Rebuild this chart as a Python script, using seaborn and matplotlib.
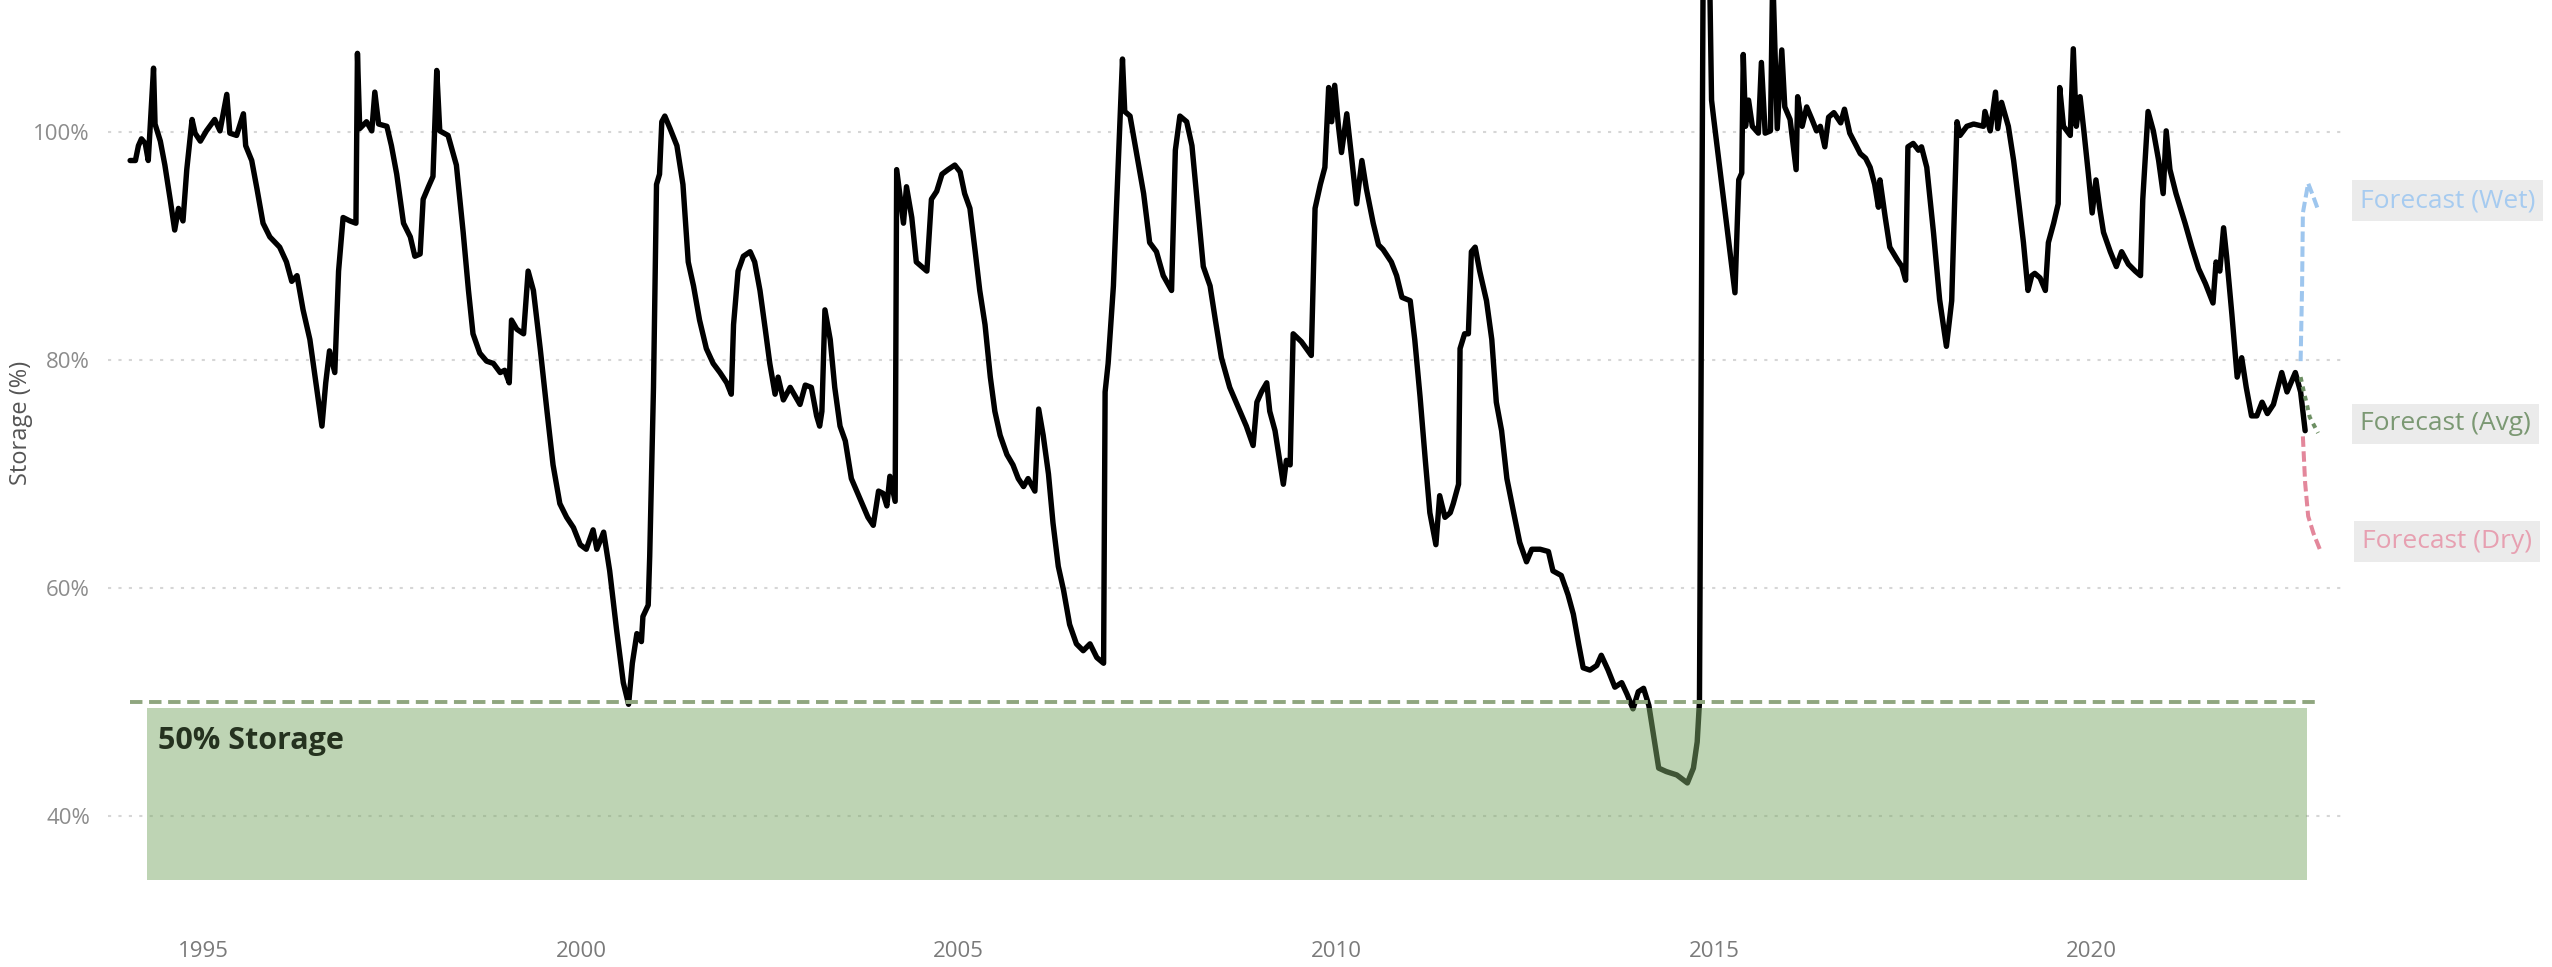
import matplotlib
matplotlib.use("Agg")
import matplotlib.pyplot as plt
import pandas as pd
import seaborn as sns

# ---------------- data (decimal years, storage % of capacity) ----------------
dates = [
    1994.03, 1994.10, 1994.14, 1994.18, 1994.23, 1994.27, 1994.34, 1994.36, 1994.43, 1994.49,
    1994.56, 1994.62, 1994.67, 1994.73, 1994.78, 1994.85, 1994.89, 1994.96, 1995.04, 1995.15,
    1995.22, 1995.31, 1995.35, 1995.44, 1995.53, 1995.56, 1995.64, 1995.71, 1995.79, 1995.88,
    1996.01, 1996.10, 1996.17, 1996.24, 1996.32, 1996.41, 1996.48, 1996.57, 1996.62, 1996.67,
    1996.74, 1996.79, 1996.85, 1996.94, 1997.02, 1997.04, 1997.07, 1997.16, 1997.23, 1997.27,
    1997.32, 1997.43, 1997.49, 1997.56, 1997.65, 1997.74, 1997.80, 1997.87, 1997.91, 1997.98,
    1998.04, 1998.09, 1998.13, 1998.24, 1998.35, 1998.44, 1998.51, 1998.57, 1998.66, 1998.75,
    1998.84, 1998.93, 1998.99, 1999.05, 1999.08, 1999.15, 1999.24, 1999.30, 1999.37, 1999.46,
    1999.55, 1999.63, 1999.72, 1999.81, 1999.90, 1999.99, 2000.07, 2000.16, 2000.21, 2000.30,
    2000.38, 2000.47, 2000.56, 2000.63, 2000.68, 2000.74, 2000.80, 2000.82, 2000.89, 2000.91,
    2000.96, 2001.00, 2001.04, 2001.07, 2001.11, 2001.18, 2001.27, 2001.35, 2001.42, 2001.49,
    2001.57, 2001.66, 2001.75, 2001.84, 2001.93, 2001.99, 2002.02, 2002.08, 2002.15, 2002.24,
    2002.30, 2002.37, 2002.44, 2002.50, 2002.57, 2002.61, 2002.68, 2002.77, 2002.90, 2002.97,
    2003.05, 2003.12, 2003.16, 2003.19, 2003.23, 2003.30, 2003.36, 2003.43, 2003.50, 2003.58,
    2003.69, 2003.80, 2003.87, 2003.94, 2004.00, 2004.05, 2004.09, 2004.16, 2004.18, 2004.22,
    2004.27, 2004.31, 2004.38, 2004.44, 2004.51, 2004.58, 2004.64, 2004.71, 2004.78, 2004.86,
    2004.95, 2005.02, 2005.08, 2005.15, 2005.22, 2005.28, 2005.35, 2005.42, 2005.48, 2005.55,
    2005.64, 2005.72, 2005.79, 2005.86, 2005.92, 2006.01, 2006.06, 2006.12, 2006.19, 2006.25,
    2006.32, 2006.39, 2006.47, 2006.56, 2006.65, 2006.74, 2006.83, 2006.92, 2006.94, 2006.98,
    2007.05, 2007.09, 2007.17, 2007.20, 2007.27, 2007.36, 2007.45, 2007.53, 2007.62, 2007.71,
    2007.82, 2007.87, 2007.93, 2008.02, 2008.09, 2008.15, 2008.24, 2008.33, 2008.40, 2008.48,
    2008.59, 2008.70, 2008.81, 2008.90, 2008.95, 2009.01, 2009.08, 2009.12, 2009.19, 2009.23,
    2009.30, 2009.34, 2009.39, 2009.43, 2009.54, 2009.67, 2009.72, 2009.79, 2009.85, 2009.90,
    2009.94, 2009.98, 2010.03, 2010.07, 2010.14, 2010.20, 2010.27, 2010.34, 2010.40, 2010.49,
    2010.56, 2010.62, 2010.73, 2010.80, 2010.87, 2010.98, 2011.04, 2011.11, 2011.18, 2011.24,
    2011.32, 2011.37, 2011.44, 2011.51, 2011.55, 2011.62, 2011.64, 2011.70, 2011.75, 2011.79,
    2011.84, 2011.90, 2011.99, 2012.06, 2012.12, 2012.19, 2012.26, 2012.35, 2012.43, 2012.52,
    2012.59, 2012.70, 2012.81, 2012.87, 2012.98, 2013.07, 2013.14, 2013.21, 2013.27, 2013.36,
    2013.45, 2013.51, 2013.60, 2013.69, 2013.78, 2013.85, 2013.93, 2014.00, 2014.07, 2014.14,
    2014.27, 2014.37, 2014.51, 2014.65, 2014.73, 2014.78, 2014.81, 2014.86, 2014.94, 2014.97,
    2015.00, 2015.28, 2015.33, 2015.37, 2015.39, 2015.42, 2015.46, 2015.51, 2015.59, 2015.63,
    2015.68, 2015.75, 2015.78, 2015.84, 2015.90, 2015.94, 2016.01, 2016.09, 2016.11, 2016.17,
    2016.23, 2016.30, 2016.36, 2016.41, 2016.47, 2016.52, 2016.59, 2016.68, 2016.73, 2016.80,
    2016.87, 2016.94, 2017.01, 2017.07, 2017.13, 2017.18, 2017.20, 2017.27, 2017.33, 2017.43,
    2017.49, 2017.54, 2017.57, 2017.64, 2017.71, 2017.75, 2017.82, 2017.91, 2017.99, 2018.08,
    2018.15, 2018.22, 2018.26, 2018.35, 2018.44, 2018.57, 2018.59, 2018.66, 2018.73, 2018.76,
    2018.81, 2018.90, 2018.97, 2019.04, 2019.10, 2019.16, 2019.21, 2019.25, 2019.32, 2019.39,
    2019.43, 2019.50, 2019.56, 2019.58, 2019.63, 2019.72, 2019.76, 2019.80, 2019.85, 2019.90,
    2019.96, 2020.01, 2020.06, 2020.11, 2020.16, 2020.25, 2020.33, 2020.40, 2020.49, 2020.58,
    2020.65, 2020.68, 2020.75, 2020.82, 2020.89, 2020.95, 2020.99, 2021.04, 2021.12, 2021.24,
    2021.33, 2021.42, 2021.51, 2021.61, 2021.65, 2021.70, 2021.75, 2021.79, 2021.86, 2021.93,
    2021.99, 2022.05, 2022.12, 2022.19, 2022.26, 2022.33, 2022.41, 2022.52, 2022.59, 2022.70,
    2022.77, 2022.83,
]
storage = [
    97.5, 97.5, 98.8, 99.4, 99.0, 97.5, 105.6, 100.7, 99.2, 97.1,
    94.1, 91.4, 93.3, 92.2, 96.7, 101.1, 99.9, 99.2, 100.1, 101.1,
    100.1, 103.3, 99.9, 99.7, 101.6, 98.8, 97.5, 95.0, 92.0, 90.8,
    89.9, 88.6, 86.9, 87.4, 84.4, 81.8, 78.5, 74.2, 78.0, 80.8,
    78.9, 87.8, 92.5, 92.2, 92.0, 106.9, 100.3, 100.9, 100.1, 103.5,
    100.7, 100.5, 98.8, 96.3, 92.0, 90.8, 89.1, 89.3, 94.1, 95.2,
    96.1, 105.4, 100.1, 99.7, 97.1, 91.2, 86.1, 82.3, 80.6, 79.9,
    79.7, 78.9, 79.1, 78.0, 83.5, 82.7, 82.3, 87.8, 86.1, 81.0,
    75.5, 70.8, 67.4, 66.2, 65.3, 63.8, 63.4, 65.1, 63.4, 64.9,
    61.5, 56.4, 51.7, 49.8, 53.4, 56.0, 55.3, 57.5, 58.5, 62.8,
    77.6, 95.4, 96.3, 100.9, 101.4, 100.3, 98.8, 95.4, 88.6, 86.5,
    83.5, 81.0, 79.7, 78.9, 78.0, 77.0, 83.1, 87.8, 89.1, 89.5,
    88.6, 86.1, 82.7, 79.7, 77.0, 78.5, 76.5, 77.6, 76.1, 77.8,
    77.6, 75.1, 74.2, 75.5, 84.4, 81.8, 77.6, 74.2, 72.9, 69.6,
    67.9, 66.2, 65.5, 68.5, 68.3, 67.2, 69.8, 67.6, 96.7, 94.6,
    92.0, 95.2, 92.5, 88.6, 88.2, 87.8, 94.1, 94.8, 96.3, 96.7,
    97.1, 96.5, 94.6, 93.3, 89.5, 86.1, 83.1, 78.5, 75.5, 73.4,
    71.7, 70.8, 69.6, 68.9, 69.6, 68.5, 75.7, 73.4, 70.0, 65.7,
    61.9, 59.8, 56.8, 55.1, 54.5, 55.1, 53.9, 53.4, 77.2, 79.7,
    86.5, 93.3, 106.4, 101.8, 101.4, 98.0, 94.6, 90.3, 89.5, 87.4,
    86.1, 98.4, 101.4, 100.9, 98.8, 94.6, 88.2, 86.5, 83.5, 80.2,
    77.6, 75.9, 74.2, 72.5, 76.3, 77.2, 78.0, 75.5, 73.8, 72.1,
    69.1, 71.2, 70.8, 82.3, 81.6, 80.4, 93.3, 95.4, 96.9, 103.9,
    100.9, 104.1, 100.5, 98.2, 101.6, 98.0, 93.7, 97.5, 95.0, 92.0,
    90.1, 89.7, 88.6, 87.4, 85.5, 85.2, 81.8, 76.8, 71.2, 66.6,
    63.8, 68.1, 66.2, 66.6, 67.4, 69.1, 81.0, 82.3, 82.3, 89.5,
    89.9, 87.8, 85.2, 81.8, 76.3, 73.8, 69.6, 66.6, 64.0, 62.3,
    63.4, 63.4, 63.2, 61.5, 61.1, 59.4, 57.7, 55.1, 53.0, 52.8,
    53.2, 54.1, 52.8, 51.3, 51.7, 50.7, 49.4, 50.9, 51.2, 49.7,
    44.2, 43.9, 43.6, 42.9, 44.2, 46.5, 50.0, 116.0, 116.0, 102.8,
    101.1, 85.9, 95.8, 96.4, 106.8, 100.5, 102.8, 100.5, 99.9, 106.1,
    99.9, 100.1, 114.0, 100.3, 107.2, 102.2, 101.1, 96.7, 103.1, 100.5,
    102.2, 101.1, 100.1, 100.5, 98.7, 101.3, 101.7, 100.8, 102.0, 99.9,
    99.0, 98.1, 97.7, 96.9, 95.4, 93.4, 95.8, 92.5, 89.9, 88.8,
    88.2, 87.0, 98.7, 99.0, 98.4, 98.7, 96.9, 91.1, 85.3, 81.2,
    85.2, 100.9, 99.7, 100.5, 100.7, 100.5, 101.8, 100.1, 103.5, 100.3,
    102.6, 100.5, 97.5, 93.7, 90.3, 86.1, 87.4, 87.6, 87.2, 86.1,
    90.3, 92.0, 93.7, 103.9, 100.5, 99.7, 107.3, 100.5, 103.1, 100.1,
    96.3, 92.9, 95.8, 93.3, 91.2, 89.5, 88.2, 89.5, 88.4, 87.8,
    87.4, 94.1, 101.8, 100.1, 97.5, 94.6, 100.1, 96.7, 94.6, 92.0,
    89.9, 88.0, 86.7, 85.0, 88.6, 87.8, 91.6, 89.1, 84.0, 78.5,
    80.2, 77.6, 75.1, 75.1, 76.3, 75.3, 76.1, 78.9, 77.2, 78.9,
    77.2, 73.8,
]

wet_dates = [2022.77, 2022.79, 2022.80, 2022.87, 2022.94, 2023.00]
wet_vals = [79.9, 86.7, 92.9, 95.5, 94.3, 93.2]
avg_dates = [2022.77, 2022.82, 2022.85, 2022.89, 2023.00]
avg_vals = [78.5, 77.0, 76.2, 75.0, 73.6]
dry_dates = [2022.80, 2022.83, 2022.87, 2022.94, 2023.03]
dry_vals = [73.3, 69.2, 66.3, 64.8, 63.3]
forecast_names = ["Forecast (Wet)", "Forecast (Avg)", "Forecast (Dry)"]

threshold = 50
zone_x = [1994.25, 2022.86]
zone_low = 34.4
zone_high = 49.5
zone_label = "50% Storage"

year_ticks = [1995, 2000, 2005, 2010, 2015, 2020]
pct_ticks = [40, 60, 80, 100]

assert len(dates) == len(storage)

# ---------------- styling ----------------
sns.set_theme(style="white")
plt.rcParams["font.family"] = ["Open Sans", "DejaVu Sans"]

W, H = 2552, 967
fig = plt.figure(figsize=(W / 100, H / 100), dpi=100)
ax = fig.add_axes([108 / W, 1 - 930 / H, (2342 - 108) / W, 930 / H])

hist = pd.DataFrame({"date": dates, "storage": storage})
sns.lineplot(data=hist, x="date", y="storage", ax=ax, color="black", lw=3.9,
             estimator=None, sort=False, zorder=2)

styles = [
    (wet_dates, wet_vals, "#9ec6ee", (0, (2.6, 1.1)), "#a6cbf0"),
    (avg_dates, avg_vals, "#6d8f63", (0, (1.2, 1.2)), "#7b9873"),
    (dry_dates, dry_vals, "#e3879b", (0, (2.6, 1.1)), "#e7a0b1"),
]
for (fx, fy, col, dash, tcol), name in zip(styles, forecast_names):
    fdf = pd.DataFrame({"date": fx, "storage": fy})
    sns.lineplot(data=fdf, x="date", y="storage", ax=ax, color=col, lw=2.9,
                 linestyle=dash, estimator=None, sort=False, zorder=2)
    ax.annotate(name, xy=(fx[-1], fy[-1]), xytext=(42, 9), textcoords="offset pixels",
                ha="left", va="center", fontsize=19, color=tcol, annotation_clip=False,
                bbox=dict(boxstyle="square,pad=0.3", fc="#ebebeb", ec="none"))

# 50 % zone (semi-transparent, drawn over the line)
ax.fill_between(zone_x, zone_low, zone_high, color="#7eaa6a", alpha=0.5, lw=0, zorder=3)
ax.hlines(threshold, dates[0], dry_dates[-1], colors="#8fa67f", lw=2.8,
          linestyles=(0, (3.2, 1.7)), zorder=4)
ax.annotate(zone_label, xy=(zone_x[0], zone_high), xytext=(11, -33),
            textcoords="offset pixels", ha="left", va="center", fontsize=22,
            fontweight="bold", color="#25321f", zorder=5)

# axes
ax.set_xlim(1993.737, 2023.318)
ax.set_ylim(30.0, 111.58)
ax.set_xticks(year_ticks)
ax.set_xticklabels([str(y) for y in year_ticks])
ax.set_yticks(pct_ticks)
ax.set_yticklabels([f"{p}%" for p in pct_ticks])
ax.tick_params(axis="x", length=0, pad=8, labelsize=16, labelcolor="#7a7a7a")
ax.tick_params(axis="y", length=0, pad=13, labelsize=16, labelcolor="#8c8c8c")
ax.yaxis.grid(True, color="#d6d6d6", linestyle=(0, (1.5, 3.5)), lw=1.5)
ax.xaxis.grid(False)
ax.set_axisbelow(True)
for s in ax.spines.values():
    s.set_visible(False)
ax.set_xlabel("")
ax.set_ylabel("Storage (%)", fontsize=17, color="#555555")
ax.yaxis.set_label_coords(-0.0335, 0.545)
ax.set_facecolor("white")
fig.patch.set_facecolor("white")

fig.savefig("out.png", dpi=100)
